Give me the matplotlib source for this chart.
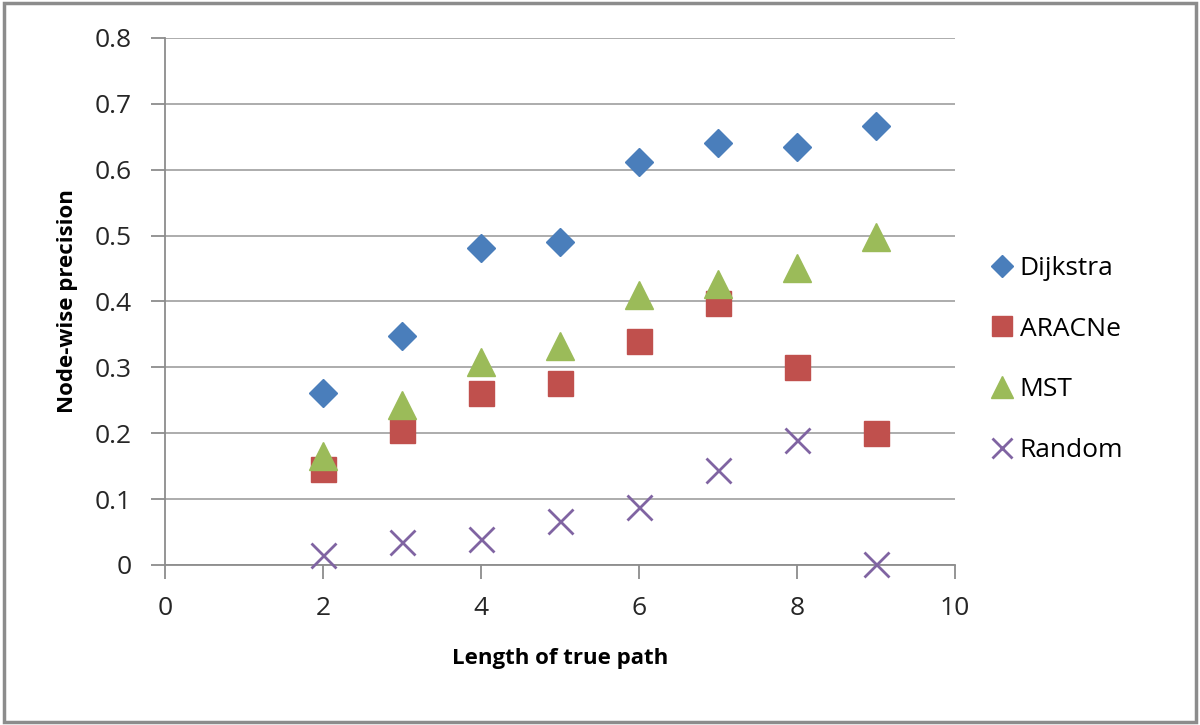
import matplotlib
matplotlib.use("Agg")
import matplotlib.pyplot as plt
from matplotlib.patches import Rectangle

plt.rcParams['font.family'] = ['Open Sans', 'DejaVu Sans']

x = [2, 3, 4, 5, 6, 7, 8, 9]
dijkstra = [0.261, 0.347, 0.481, 0.490, 0.612, 0.640, 0.634, 0.666]
aracne = [0.146, 0.205, 0.261, 0.276, 0.340, 0.398, 0.300, 0.200]
mst = [0.165, 0.243, 0.308, 0.332, 0.410, 0.426, 0.451, 0.498]
random_ = [0.015, 0.035, 0.040, 0.067, 0.088, 0.144, 0.190, 0.002]

fig = plt.figure(figsize=(12, 7.25), dpi=100)
fig.patches.append(Rectangle((0.003, 0.004), 0.994, 0.992, transform=fig.transFigure,
                             fill=False, edgecolor='#8c8c8c', linewidth=2.5))
ax = fig.add_axes([0.1375, 0.2207, 0.6583, 0.7269])

ax.plot(x, dijkstra, linestyle='none', marker='D', markersize=14, color='#4A7EBB', label='Dijkstra', zorder=3, clip_on=False)
ax.plot(x, aracne, linestyle='none', marker='s', markersize=18, color='#C0504D', label='ARACNe', zorder=3, clip_on=False)
ax.plot(x, mst, linestyle='none', marker='^', markersize=20, color='#9BBB59', label='MST', zorder=4, clip_on=False)
ax.plot(x, random_, linestyle='none', marker='x', markersize=18, markeredgewidth=2, color='#8064A2', label='Random', zorder=3, clip_on=False)

ax.set_xlim(0, 10)
ax.set_ylim(0, 0.8)
ax.set_xticks([0, 2, 4, 6, 8, 10])
ax.set_yticks([0, 0.1, 0.2, 0.3, 0.4, 0.5, 0.6, 0.7, 0.8])
ax.set_yticklabels(['0', '0.1', '0.2', '0.3', '0.4', '0.5', '0.6', '0.7', '0.8'])
ax.grid(axis='y', color='#a6a6a6', linewidth=1.3)
ax.set_axisbelow(True)
for s in ['top', 'right']:
    ax.spines[s].set_visible(False)
for s in ['left', 'bottom']:
    ax.spines[s].set_color('#8c8c8c')
    ax.spines[s].set_linewidth(1.3)
ax.tick_params(axis='both', which='major', direction='out', length=10, width=1.3, color='#8c8c8c',
               labelsize=19, labelcolor='#262626')
ax.tick_params(axis='y', pad=14)
ax.tick_params(axis='x', pad=12)

ax.set_xlabel('Length of true path', fontsize=16, fontweight='bold', labelpad=20)
ax.set_ylabel('Node-wise precision', fontsize=16, fontweight='bold', labelpad=12)

leg = ax.legend(loc='center left', bbox_to_anchor=(1.01, 0.39), frameon=False, fontsize=19,
                handletextpad=0.05, labelspacing=1.35, handlelength=1.2, markerscale=0.8)

fig.savefig('out.png', dpi=100)
